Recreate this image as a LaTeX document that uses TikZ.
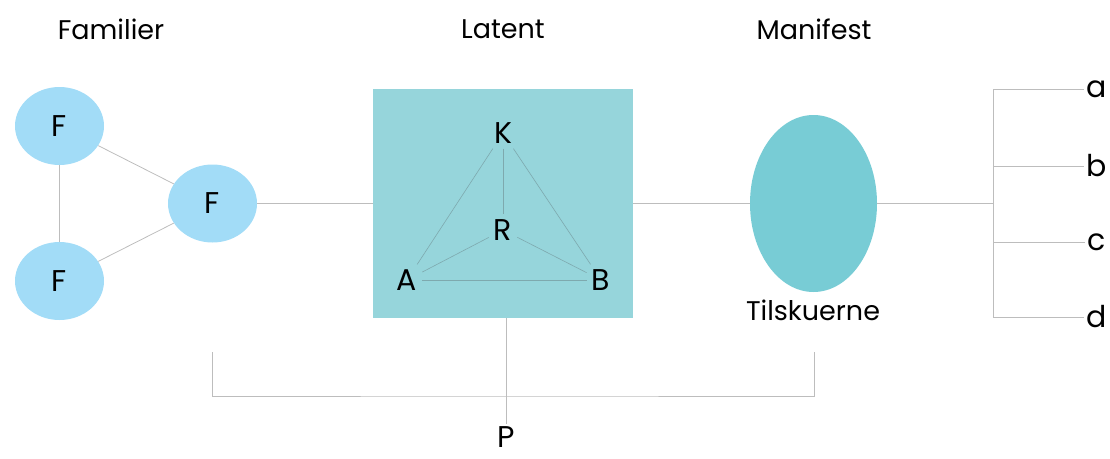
\documentclass[tikz,border=0pt]{standalone}
\usepackage{fontspec}
\setmainfont{Poppins}
\definecolor{famblue}{HTML}{A2DCF7}
\definecolor{latteal}{HTML}{96D5DB}
\definecolor{mantea}{HTML}{78CCD5}
\definecolor{linegray}{HTML}{BDBDBD}
\definecolor{innergray}{HTML}{7EA9AE}
\usetikzlibrary{shapes.geometric}
\begin{document}
\begin{tikzpicture}
[x=1pt,y=-1pt,
  famdecorate/.style={shape=ellipse,fill=famblue,minimum width=89pt,minimum height=78pt,inner sep=0pt,font=\fontsize{30}{30}\selectfont},%
  letterdecorate/.style={inner sep=5pt,font=\fontsize{30}{30}\selectfont},%
  headdecorate/.style={font=\fontsize{27}{27}\selectfont},%
  linedecorate/.style={-,draw=linegray,line width=0.8pt},%
  innerdecorate/.style={-,draw=innergray,line width=0.6pt}]
\useasboundingbox (0,0) rectangle (1110,458);
%% headings
\foreach \nodename/\x/\text in {hfam/111/Familier, hlat/503/Latent, hman/814/Manifest}
{
  \node (\nodename) at (\x,29) [headdecorate] {\text};
}
%% families
\foreach \nodename/\x/\y in {f1/59.5/126, f2/212.5/203.5, f3/59.5/281}
{
  \node (\nodename) at (\x,\y) [famdecorate] {F};
}
%% latent square and ellipse
\node (lat) at (503,203.5) [fill=latteal,minimum width=260pt,minimum height=229pt,inner sep=0pt] {};
\node (man) at (813.5,203.5) [shape=ellipse,fill=mantea,minimum width=127pt,minimum height=177pt,inner sep=0pt] {};
\node (tv) at (813,310) [letterdecorate,font=\fontsize{27}{27}\selectfont] {Tilskuerne};
%% letters inside the square
\foreach \nodename/\x/\y in {K/503/133, R/503/230, A/407/280, B/601/280}
{
  \node (\nodename) at (\x,\y) [letterdecorate] {\nodename};
}
%% letters on the right
\foreach \nodename/\y in {a/89, b/166, c/242, d/317}
{
  \node (\nodename) at (1097,\y) [letterdecorate,inner sep=3pt] {\nodename};
  \coordinate (s\nodename) at (993,\y);
}
\coordinate (join) at (993,203.5);
\node (P) at (506,437) [letterdecorate,inner sep=2pt] {P};
\coordinate (pl) at (212,352);
\coordinate (pr) at (814,352);
\coordinate (pm) at (506,396);
%% edges or lines
\path
\foreach \startnode/\endnode in {f1/f2, f2/f3, f1/f3, f2/lat, lat/man, man/join, sa/sd} {
  (\startnode) edge[linedecorate] (\endnode)
};
\path
\foreach \startnode/\endnode in {K/A, K/R, K/B, R/A, R/B, A/B} {
  (\startnode) edge[innerdecorate] (\endnode)
};
\path
\foreach \nodename in {a, b, c, d} {
  (s\nodename) edge[linedecorate] (\nodename)
};
\draw[linedecorate] (pl) |- (pm) -| (pr);
\draw[linedecorate] (lat.south -| pm) -- (P);
\end{tikzpicture}
\end{document}
